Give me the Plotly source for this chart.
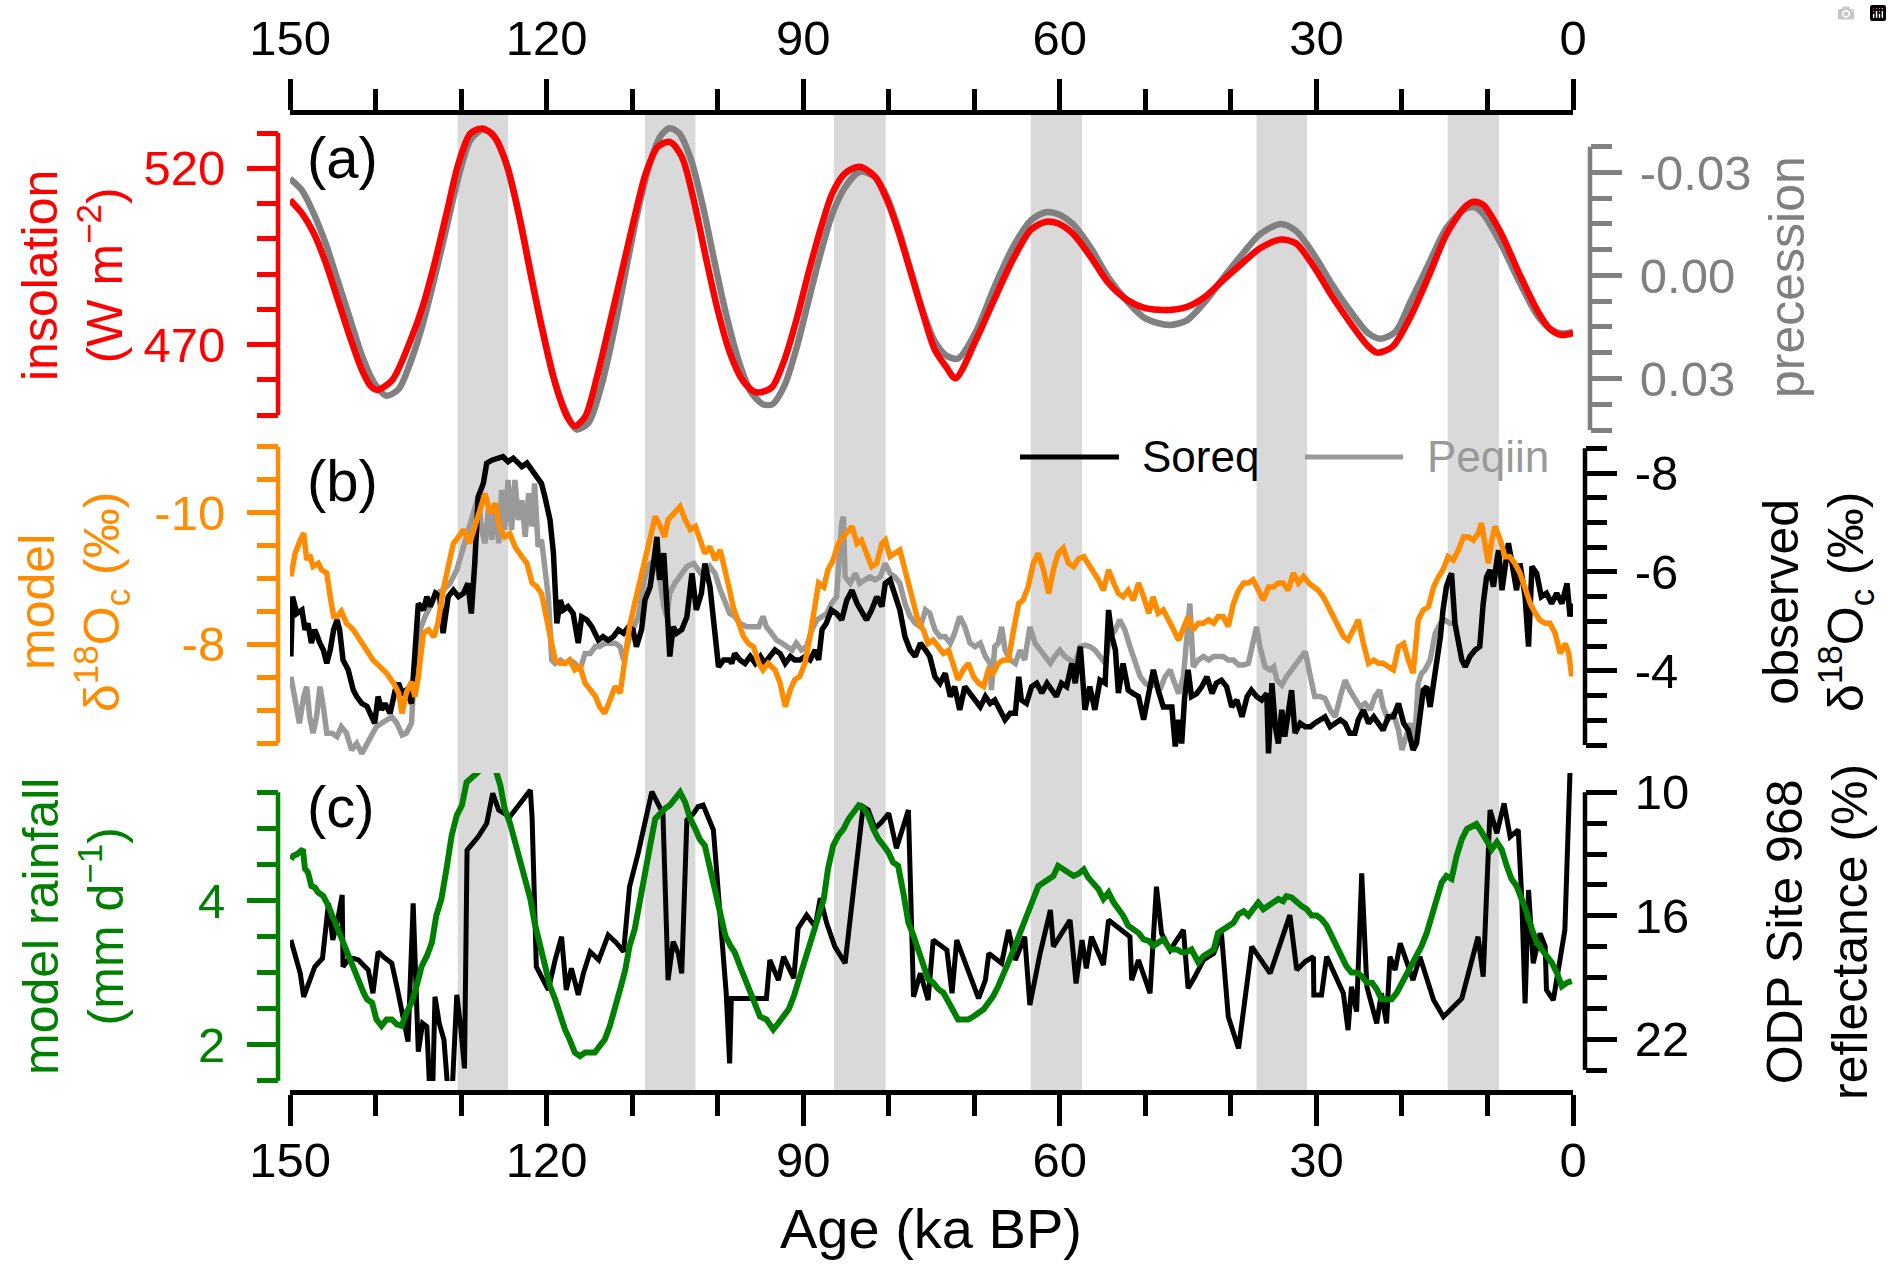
import plotly.graph_objects as go

W, H = 1892, 1275

# ---------------------------------------------------------------- data
age_ticks = [150, 120, 90, 60, 30, 0]
age_tick_labels = ["150", "120", "90", "60", "30", "0"]
age_minor = [140, 130, 110, 100, 80, 70, 50, 40, 20, 10]

band_start = [130.4, 108.5, 86.4, 63.4, 37.0, 14.65]
band_end = [124.5, 102.6, 80.35, 57.4, 31.1, 8.65]

# (a) insolation (W m-2)
ins_age = [150, 148.6, 147.2, 145.8, 144.4, 143.0, 141.6, 140.5, 139.8, 138.05, 135.9, 134.5, 133.1, 131.7,
           130.3, 128.9, 127.5, 126.1, 124.6, 123.2, 121.8, 120.4, 119.0, 117.6, 116.7, 115.5, 114.1, 112.7,
           111.25, 109.8, 108.4, 107.0, 105.6, 104.2, 102.8, 101.4, 100.0, 98.55, 97.1, 95.7, 94.7, 93.6,
           92.2, 90.8, 89.4, 88.0, 86.6, 85.1, 83.4, 81.6, 80.2, 78.8, 77.4, 76.0, 74.6, 73.3, 72.2, 69.8,
           67.7, 65.5, 63.4, 61.7, 60.25, 58.5, 56.4, 54.3, 52.1, 50.0, 47.2, 45.1, 43.0, 40.9, 38.7, 36.6,
           34.15, 32.4, 30.3, 28.15, 26.0, 23.9, 22.9, 21.1, 19.0, 16.9, 14.75, 12.6, 11.6, 10.5, 8.4, 6.3,
           4.2, 2.76, 1.35, 0]
ins_val = [511.0, 507.2, 501.5, 493.0, 482.6, 472.2, 462.8, 458.0, 457.1, 459.9, 471.3, 480.7, 493.0, 507.2,
           521.4, 529.9, 531.3, 528.9, 520.5, 506.3, 489.2, 473.2, 459.0, 449.5, 446.9, 449.5, 460.9, 475.1,
           490.2, 505.3, 518.6, 526.1, 527.5, 523.3, 511.0, 494.9, 479.8, 467.5, 459.9, 456.6, 456.6, 458.0,
           465.6, 476.9, 490.2, 502.5, 512.9, 518.6, 520.4, 517.6, 511.0, 501.5, 490.2, 478.8, 468.4, 463.7,
           460.4, 471.3, 482.6, 494.0, 502.5, 504.8, 504.4, 501.5, 494.9, 487.4, 482.6, 480.3, 479.8, 480.7,
           483.6, 488.3, 493.0, 497.3, 499.8, 498.7, 492.1, 483.6, 476.0, 469.4, 467.7, 469.4, 477.9, 489.2,
           501.5, 509.1, 510.5, 509.6, 501.5, 490.2, 479.8, 474.6, 472.7, 473.2]

# (a) precession
prec_age = [150, 148.6, 147.2, 145.8, 144.4, 143.0, 141.6, 140.2, 138.75, 137.3, 135.9, 134.5, 133.1, 131.7,
            130.3, 128.9, 127.5, 126.4, 125.0, 123.6, 122.2, 120.8, 119.35, 117.9, 116.5, 115.1, 113.7, 112.3,
            110.9, 109.5, 108.05, 106.7, 105.6, 104.5, 103.1, 101.7, 100.3, 98.9, 97.5, 96.1, 94.7, 93.6, 92.2,
            90.8, 89.4, 88.0, 86.6, 85.1, 83.4, 81.6, 80.2, 78.8, 77.4, 76.0, 74.6, 73.3, 71.9, 69.8, 67.7, 65.5,
            63.4, 61.7, 60.25, 58.5, 56.4, 54.3, 52.1, 50.0, 47.2, 45.1, 43.0, 40.9, 38.7, 36.6, 34.15, 32.4,
            30.3, 28.15, 26.0, 23.9, 22.5, 20.75, 19.0, 16.9, 14.75, 12.6, 11.6, 10.5, 8.4, 6.3, 4.2, 2.76, 1.35, 0]
prec_val = [-0.0282, -0.0248, -0.0179, -0.0091, 0.0017, 0.0125, 0.0233, 0.0311, 0.0350, 0.0331, 0.0252, 0.0144,
            0.0007, -0.0140, -0.0287, -0.0395, -0.0424, -0.0414, -0.0346, -0.0218, -0.0052, 0.0125, 0.0282,
            0.0389, 0.0448, 0.0429, 0.0331, 0.0184, 0.0007, -0.0169, -0.0316, -0.0405, -0.0429, -0.0414,
            -0.0336, -0.0199, -0.0032, 0.0125, 0.0252, 0.0340, 0.0375, 0.0375, 0.0321, 0.0213, 0.0076, -0.0061,
            -0.0179, -0.0257, -0.0302, -0.0287, -0.0228, -0.0130, -0.0012, 0.0105, 0.0193, 0.0233, 0.0242,
            0.0164, 0.0037, -0.0081, -0.0160, -0.0184, -0.0179, -0.0150, -0.0081, 0.0007, 0.0076, 0.0125,
            0.0144, 0.0130, 0.0076, 0.0007, -0.0061, -0.0120, -0.0150, -0.0130, -0.0061, 0.0027, 0.0105,
            0.0169, 0.0184, 0.0164, 0.0076, -0.0032, -0.0140, -0.0194, -0.0199, -0.0179, -0.0091, 0.0017,
            0.0115, 0.0154, 0.0169, 0.0164]

# (b) model d18O (permil)
mod_age = [149.9, 149.4, 148.8, 148.4, 148.05, 147.7, 147.3, 146.7, 146.3, 145.7, 145.3, 144.9, 144.5, 144.0,
           143.4, 142.6, 141.8, 141.0, 140.3, 139.5, 138.7, 137.9, 137.3, 136.9, 136.4, 135.8, 135.4, 135.0,
           134.4, 133.8, 133.2, 132.7, 132.1, 131.5, 130.9, 130.3, 129.7, 129.0, 128.4, 127.8, 127.2, 126.6,
           126.0, 125.5, 124.9, 124.3, 123.7, 122.9, 122.3, 121.7, 121.2, 120.6, 120.0, 119.4, 119.0, 118.4,
           117.8, 117.3, 116.7, 116.1, 115.5, 114.9, 114.3, 113.8, 113.2, 112.6, 112.0, 111.4, 110.8, 110.3,
           109.7, 109.1, 108.5, 107.9, 107.3, 106.7, 106.2, 105.8, 105.2, 104.4, 103.8, 103.2, 102.6, 102.1,
           101.5, 100.9, 100.3, 99.7, 99.1, 98.6,
           98.2, 97.6, 97.0, 96.4, 95.8, 95.2, 94.7, 94.1, 93.3, 92.7, 92.1, 91.5, 91.0, 90.4, 89.8, 89.2,
           88.6, 88.2, 87.6, 87.1, 86.5, 85.9, 85.3, 84.7, 84.3, 83.7, 83.2, 82.6, 82.0, 81.4, 80.8, 80.4,
           79.85, 79.3, 78.7, 78.3, 77.7, 77.1, 76.5, 75.95, 75.4, 74.8, 74.2, 73.6, 73.0, 72.4, 71.9, 71.3,
           70.7, 70.1, 69.5, 68.9, 68.35, 67.8, 67.2, 66.6, 66.0, 65.4, 64.8, 64.3, 63.7, 63.1, 62.5, 61.9,
           61.3, 60.75, 60.2, 59.6, 59.0, 58.4, 57.8, 57.2, 56.7, 56.1, 55.5, 54.9, 54.3, 53.7, 53.15, 52.6,
           52.0, 51.4, 50.8, 50.2, 49.6, 49.1, 48.5, 47.9, 47.1,
           46.7, 46.1, 45.55, 45.0, 44.4, 43.8, 43.2, 42.6, 42.0, 41.5, 40.9, 40.3, 39.7, 39.1, 38.5, 37.95,
           37.4, 36.8, 36.2, 35.6, 35.0, 34.45, 33.9, 33.3, 32.7, 32.1, 31.5, 30.9, 30.35, 29.8, 29.2, 28.6,
           28.0, 27.4, 26.85, 26.3, 25.7, 25.1, 24.5, 23.9, 23.3, 22.75, 22.2, 21.6, 21.0, 20.4, 19.8, 19.25,
           18.7, 18.1, 17.5, 16.9, 16.3, 15.7, 15.2, 14.6, 14.0, 13.4, 12.8, 12.2, 11.65, 11.1, 10.7, 10.3,
           9.9, 9.5, 9.1, 8.5, 7.95, 7.4, 6.8, 6.2, 5.6, 5.0, 4.4, 3.9, 3.25, 2.7, 2.1, 1.5, 0.9, 0.5, 0.15]
mod_val = [-9.03, -9.38, -9.58, -9.69, -9.28, -9.36, -9.18, -9.23, -9.13, -9.08, -8.72, -8.42, -8.42, -8.50,
           -8.32, -8.22, -8.06, -7.91, -7.76, -7.66, -7.56, -7.41, -7.26, -6.95, -7.26, -7.43, -7.20, -7.51,
           -8.17, -8.22, -8.11, -8.32, -8.82, -9.18, -9.53, -9.63, -9.74, -9.53, -9.79, -9.99, -10.29, -9.99,
           -10.14, -9.79, -9.63, -9.68, -9.48, -9.33, -9.23, -8.93, -8.88, -8.77, -8.37, -8.01, -7.76, -7.71,
           -7.71, -7.76, -7.61, -7.66, -7.41, -7.31, -7.21, -7.05, -6.95, -7.15, -7.36, -7.26, -7.76, -8.27,
           -8.62, -8.93, -9.28, -9.58, -9.94, -9.79, -9.63, -9.89, -9.99, -10.09, -9.89, -9.74, -9.79, -9.58,
           -9.38, -9.48, -9.28, -9.43, -9.13, -8.82,
           -8.57, -8.32, -8.12, -8.01, -7.96, -7.71, -7.61, -7.71, -7.61, -7.41, -7.05, -7.31, -7.46, -7.51,
           -7.71, -8.12, -8.57, -8.93, -8.87, -9.13, -9.28, -9.53, -9.63, -9.74, -9.79, -9.53, -9.58, -9.38,
           -9.18, -9.23, -9.53, -9.58, -9.33, -9.38, -9.43, -9.23, -8.93, -8.57, -8.32, -8.22, -8.01, -8.06,
           -7.96, -7.86, -7.91, -7.66, -7.46, -7.61, -7.71, -7.51, -7.41, -7.36, -7.61, -7.56, -7.71, -7.76,
           -7.76, -8.22, -8.62, -8.67, -8.87, -9.23, -9.38, -9.13, -8.77, -9.13, -9.38, -9.46, -9.23, -9.18,
           -9.30, -9.33, -9.23, -9.13, -8.98, -8.82, -9.13, -8.93, -8.77, -8.72, -8.82, -8.67, -8.93, -8.72,
           -8.47, -8.72, -8.47, -8.52, -8.34,
           -8.22, -8.06, -8.27, -8.42, -8.22, -8.32, -8.32, -8.37, -8.32, -8.42, -8.42, -8.27, -8.62, -8.82,
           -8.93, -8.93, -8.98, -8.82, -8.67, -8.87, -8.87, -8.93, -8.93, -8.82, -9.08, -8.93, -9.03, -8.93,
           -8.87, -8.82, -8.72, -8.57, -8.42, -8.27, -8.12, -8.06, -8.22, -8.37, -8.01, -7.71, -7.76, -7.71,
           -7.71, -7.66, -7.61, -7.96, -8.01, -7.76, -7.56, -8.37, -8.52, -8.57, -8.87, -9.03, -9.13, -9.33,
           -9.28, -9.43, -9.63, -9.63, -9.58, -9.68, -9.84, -9.53, -9.23, -9.58, -9.79, -9.58, -9.33, -9.33,
           -9.23, -9.08, -8.87, -8.62, -8.47, -8.37, -8.32, -8.32, -8.17, -7.86, -8.01, -7.86, -7.51]

# (b) Soreq cave d18O (permil)
soreq_age = [149.9, 149.7, 149.2, 148.6, 148.25, 147.9, 147.5, 147.1, 146.5, 146.1, 145.7, 145.3, 144.9, 144.5,
             144.2, 143.8, 143.2, 142.6, 142.2, 141.6, 141.0, 140.4, 140.1, 139.7, 139.3, 138.9, 138.3, 137.7,
             137.3, 136.9, 136.4, 135.8, 135.4, 135.0, 134.4, 134.0, 133.6, 133.0, 132.5, 132.1, 131.5, 130.9,
             130.3, 129.7, 129.2, 128.8, 128.4, 128.0, 127.4, 127.0, 126.4, 125.8, 125.1, 124.5, 123.9, 123.3,
             122.9, 122.3, 121.7, 121.2, 120.6, 120.2, 119.6, 119.2, 118.8, 118.4, 118.05, 117.5, 116.9, 116.3,
             115.9, 115.3, 114.7, 113.95, 113.4, 112.8, 112.2, 111.6, 111.0, 110.4, 109.9, 109.5, 108.9, 108.5,
             107.9, 107.5, 107.1, 106.8, 106.3, 105.95, 105.6, 105.2, 104.8, 104.2, 103.6, 103.0, 102.5, 101.9,
             101.5, 100.9, 100.3, 99.9, 99.3, 98.6,
             98.36, 98.0, 97.4, 96.8, 96.2, 95.6, 95.0, 94.5, 93.9, 93.3, 92.7, 92.1, 91.5, 91.0, 90.4, 89.8,
             89.2, 88.6, 88.2, 87.8, 87.3, 86.7, 86.1, 85.5, 84.9, 84.3, 83.7, 83.2, 82.6, 82.0, 81.4, 80.8,
             80.4, 79.85, 79.3, 78.7, 78.1, 77.5, 76.9, 76.3, 75.7, 75.2, 74.6, 74.0, 73.4, 72.8, 72.3, 71.7,
             71.1, 70.5, 69.9, 69.3, 68.7, 68.15, 67.6, 67.0, 66.4, 65.8, 65.2, 64.8, 64.5, 63.9, 63.3, 62.7,
             62.1, 61.5, 60.95, 60.4, 59.8, 59.2, 58.6, 58.2, 57.6, 57.05, 56.5, 55.9, 55.3, 54.7, 54.3, 53.9,
             53.5, 53.15, 52.6, 52.0, 51.4, 50.8, 50.2, 49.6, 49.06, 48.5, 47.9, 47.1,
             46.9, 46.5, 46.1, 45.75, 45.4, 45.0, 44.6, 44.0, 43.4, 42.8, 42.2, 41.7, 41.1, 40.5, 39.9, 39.3,
             38.7, 38.1, 37.6, 37.0, 36.4, 35.8, 35.6, 35.2, 34.8, 34.45, 34.05, 33.7, 33.3, 32.9, 32.5, 31.9,
             31.3, 30.7, 30.2, 29.6, 29.0, 28.4, 27.8, 27.2, 26.65, 26.1, 25.5, 25.1, 24.5, 23.9, 23.3, 22.75,
             22.2, 21.6, 21.0, 20.4, 19.8, 19.25, 18.7, 18.3, 17.9, 17.5, 17.1, 16.7, 16.3, 15.9, 15.5, 15.2,
             14.8, 14.4, 14.2, 13.8, 13.4, 13.0, 12.6, 12.05, 11.45, 10.9, 10.5, 10.1, 9.7, 9.3, 8.9, 8.7,
             8.3, 7.95, 7.55, 7.2, 6.6, 6.2, 5.6, 5.2, 4.8, 4.25, 3.7, 3.1, 2.5, 1.9, 1.3, 0.7, 0.35, 0.03]
soreq_val = [-4.29, -5.50, -5.16, -5.23, -4.83, -4.96, -4.56, -4.83, -4.56, -4.42, -4.15, -4.42, -4.83, -5.03,
             -4.83, -4.22, -4.02, -3.61, -3.48, -3.34, -3.28, -3.01, -2.94, -3.48, -3.21, -3.34, -3.14, -3.61,
             -3.75, -3.55, -3.61, -3.34, -4.35, -5.36, -5.23, -5.50, -5.30, -5.57, -5.50, -4.76, -5.50, -5.63,
             -5.50, -5.57, -5.77, -5.16, -6.17, -7.52, -7.79, -8.20, -8.26, -8.30, -8.33, -8.23, -8.30, -8.20,
             -8.13, -8.20, -8.06, -7.93, -7.79, -7.52, -7.05, -6.38, -4.96, -5.43, -5.23, -5.30, -5.16, -4.56,
             -5.09, -5.03, -4.89, -4.62, -4.69, -4.62, -4.69, -4.83, -4.76, -4.89, -4.83, -4.49, -4.83, -5.43,
             -5.70, -6.17, -6.71, -5.84, -6.38, -5.36, -4.29, -4.89, -4.76, -4.83, -5.09, -5.97, -5.23, -5.57,
             -6.17, -5.70, -4.83, -4.08, -4.22, -4.22,
             -4.15, -4.35, -4.22, -4.15, -4.29, -4.15, -4.29, -4.15, -4.29, -4.42, -4.35, -4.15, -4.29, -4.22,
             -4.22, -4.29, -4.22, -4.42, -4.22, -4.83, -4.96, -5.23, -5.16, -5.03, -5.43, -5.63, -5.36, -5.23,
             -5.03, -5.23, -5.50, -5.30, -5.77, -5.84, -5.50, -5.23, -4.69, -4.42, -4.29, -4.56, -4.42, -4.29,
             -3.88, -3.75, -3.95, -3.48, -3.68, -3.21, -3.68, -3.54, -3.41, -3.27, -3.48, -3.34, -3.41, -3.21,
             -3.01, -3.14, -3.14, -3.88, -3.41, -3.34, -3.68, -3.75, -3.55, -3.75, -3.61, -3.48, -3.75, -3.68,
             -4.15, -3.75, -4.49, -3.21, -3.68, -3.21, -3.81, -3.75, -5.23, -4.69, -4.42, -3.55, -4.15, -3.61,
             -3.54, -3.48, -3.01, -3.61, -4.02, -3.61, -3.27, -3.27,
             -3.27, -2.47, -3.01, -2.53, -3.48, -4.02, -3.48, -3.54, -3.68, -3.88, -3.54, -3.75, -3.81, -3.68,
             -3.27, -3.41, -3.07, -3.48, -3.61, -3.48, -3.41, -3.54, -2.33, -3.75, -2.87, -2.53, -3.21, -2.67,
             -3.14, -3.61, -2.74, -2.94, -2.87, -2.87, -2.94, -3.01, -3.07, -2.87, -2.94, -3.01, -2.94, -2.74,
             -2.74, -3.01, -3.21, -2.94, -3.07, -2.94, -2.80, -3.07, -3.07, -3.34, -2.94, -2.80, -2.40, -2.53,
             -3.14, -3.61, -3.68, -3.27, -3.75, -4.15, -4.69, -5.23, -5.70, -5.90, -5.97, -4.96, -4.56, -4.22,
             -4.08, -4.29, -4.42, -4.49, -5.36, -5.90, -6.04, -5.70, -6.24, -6.44, -5.63, -6.04, -6.58, -6.24,
             -5.63, -6.17, -5.50, -4.49, -6.11, -5.97, -5.50, -5.57, -5.36, -5.57, -5.36, -5.77, -5.10, -5.36]

# (b) Peqiin cave d18O (permil)
peqiin_age = [149.9, 149.4, 148.9, 148.4, 148.05, 147.7, 147.3, 146.9, 146.5, 146.1, 145.7, 145.1, 144.5, 144.0,
              143.4, 142.8, 142.2, 141.6, 141.0, 140.4, 139.9, 139.3, 138.7, 138.1, 137.5, 136.9, 136.4, 135.8,
              135.4, 134.8, 134.2, 133.6, 132.85, 132.1, 131.3, 130.5, 129.7, 129.0, 128.4, 128.0, 127.6, 127.2,
              126.8, 126.4, 126.0, 125.6, 125.25, 124.9, 124.5, 124.1, 123.7, 123.3, 122.9, 122.5, 122.1, 121.7,
              121.4, 121.0, 120.6, 120.2, 119.8, 119.4, 119.0, 118.4, 117.8, 117.3, 116.7, 116.1, 115.5, 114.9,
              114.3, 113.8, 113.2, 112.6, 112.0, 111.4, 111.0, 110.4, 109.9, 109.3, 108.9, 108.5, 107.9, 107.3,
              106.8, 106.3, 105.95, 105.6, 105.0, 104.4, 103.6, 102.8, 102.3, 101.7, 100.9, 100.3, 99.7, 99.1,
              98.6,
              98.0, 97.4, 96.6, 95.8, 95.2, 94.7, 94.3, 93.7, 93.1, 92.5, 91.9, 91.3, 90.8, 90.2, 89.6, 89.0,
              88.4, 87.8, 87.25, 86.7, 86.1, 85.5, 85.3, 85.1, 84.5, 83.9, 83.4, 82.8, 82.2, 81.6, 81.0, 80.4,
              79.85, 79.3, 78.7, 78.1, 77.5, 76.9, 76.3, 75.7, 75.2, 74.6, 74.0, 73.4, 72.8, 72.3, 71.7, 71.1,
              70.5, 69.9, 69.3, 68.7, 68.15, 68.0, 67.6, 67.2, 66.8, 66.4, 65.8, 65.2, 64.65, 64.1, 63.5, 62.9,
              62.3, 61.7, 61.1, 60.6, 60.0, 59.4, 58.8, 58.2, 57.6, 57.05, 56.5, 55.9, 55.3, 54.7, 54.1, 53.5,
              53.0, 52.4, 51.8, 51.2, 50.6, 50.0, 49.45, 48.9, 48.3, 47.7, 47.1,
              46.7, 46.1, 45.55, 45.2, 44.8, 44.4, 43.8, 43.2, 42.6, 42.0, 41.5, 40.9, 40.3, 39.7, 39.1, 38.5,
              37.95, 37.4, 37.0, 36.6, 36.0, 35.4, 35.0, 34.6, 34.05, 33.5, 32.9, 32.3, 31.7, 31.3, 30.7, 30.2,
              29.6, 29.0, 28.4, 27.8, 27.2, 26.65, 26.1, 25.5, 24.9, 24.3, 23.7, 23.15, 22.6, 22.2, 21.6, 21.0,
              20.4, 20.0, 19.6, 19.05, 18.5, 18.1, 17.7, 17.3, 16.7, 16.1, 15.5, 15.0, 14.4, 13.8]
peqiin_val = [-3.88, -3.34, -2.94, -3.48, -3.68, -3.07, -2.74, -3.07, -3.68, -3.27, -2.74, -2.74, -2.67, -2.87,
              -2.74, -2.40, -2.53, -2.33, -2.53, -2.67, -2.87, -2.94, -3.01, -3.07, -2.94, -2.70, -2.74, -2.94,
              -4.15, -4.83, -5.10, -5.30, -5.57, -5.63, -5.77, -6.04, -6.51, -6.92, -7.32, -7.52, -6.85, -6.58,
              -7.25, -6.65, -7.39, -6.58, -7.66, -6.85, -7.86, -6.85, -7.86, -7.05, -7.45, -6.71, -7.59, -6.92,
              -7.79, -6.51, -6.65, -6.11, -5.50, -4.22, -4.15, -4.22, -4.15, -4.22, -4.15, -4.02, -4.35, -4.35,
              -4.49, -4.49, -4.56, -4.56, -4.56, -4.49, -4.22, -4.62, -4.83, -5.10, -5.50, -5.90, -6.17, -6.24,
              -5.90, -5.30, -5.10, -5.57, -5.77, -5.90, -6.11, -6.17, -6.04, -5.90, -6.11, -5.97, -5.64, -5.36,
              -5.16,
              -5.10, -4.96, -4.89, -4.89, -4.89, -5.10, -4.89, -4.76, -4.62, -4.56, -4.49, -4.42, -4.56, -4.42,
              -4.49, -4.83, -5.03, -5.10, -5.16, -5.36, -5.50, -6.98, -7.12, -5.90, -5.77, -5.97, -5.77, -5.84,
              -5.90, -5.84, -5.90, -6.17, -5.97, -5.90, -5.77, -5.36, -5.10, -4.96, -4.89, -5.23, -5.16, -4.83,
              -4.69, -4.69, -4.56, -4.76, -5.10, -4.89, -4.56, -4.49, -4.56, -4.29, -4.15, -3.61, -4.49, -4.56,
              -4.89, -4.42, -4.22, -4.15, -4.42, -4.22, -4.89, -4.56, -4.42, -4.29, -4.15, -4.29, -4.42, -4.29,
              -4.22, -4.15, -4.49, -4.52, -4.49, -4.42, -4.29, -4.15, -4.69, -4.83, -5.03, -4.83, -4.49, -4.15,
              -3.88, -3.75, -3.68, -3.75, -3.61, -3.88, -4.02,
              -3.81, -3.54, -3.88, -4.62, -5.36, -4.08, -4.22, -4.29, -4.22, -4.29, -4.29, -4.29, -4.22, -4.22,
              -4.12, -4.12, -4.15, -4.56, -4.89, -4.49, -4.08, -4.02, -4.08, -3.81, -3.71, -3.88, -4.02, -4.15,
              -4.29, -4.39, -3.88, -3.48, -3.48, -3.44, -3.21, -3.07, -3.48, -3.81, -3.61, -3.41, -3.27, -3.34,
              -3.21, -3.48, -3.61, -3.27, -3.01, -3.14, -2.80, -2.40, -2.67, -2.94, -2.60, -3.75, -3.95, -4.02,
              -4.22, -4.76, -4.96, -5.03, -4.96, -4.96]

# (c) model rainfall (mm d-1)
rain_age = [149.9, 149.6, 149.2, 148.8, 148.5, 148.25, 147.9, 147.5, 147.1, 146.7, 146.1, 145.5, 144.9, 144.4,
            143.8, 143.2, 142.6, 142.0, 141.4, 141.0, 140.4, 139.9, 139.3, 138.7, 138.1, 137.5, 136.95, 136.4,
            135.8, 135.2, 134.6, 134.0, 133.4, 132.9, 132.3, 131.7, 131.1, 130.5, 129.9, 129.35, 128.8, 128.2,
            127.4, 126.6, 126.05, 125.4, 124.9, 124.3, 123.7, 123.1, 122.5, 121.9, 121.4, 120.8, 120.2, 119.6,
            119.0, 118.4, 117.85, 117.3, 116.7, 116.1, 115.5, 114.9, 114.35, 113.8, 113.2, 112.6, 112.0, 111.4,
            110.8, 110.3, 109.7, 109.1, 108.5, 107.9, 107.3, 106.7, 106.2, 105.6, 105.0, 104.4, 103.8, 103.2,
            102.6, 102.1, 101.5, 100.9, 100.3, 99.7,
            99.1, 98.5, 98.0, 97.4, 96.8, 96.2, 95.6, 95.05, 94.3, 93.5, 92.9, 92.3, 91.7, 91.1, 90.6, 90.0,
            89.4, 88.8, 88.2, 87.6, 87.1, 86.5, 85.9, 85.3, 84.7, 84.1, 83.5, 83.0, 82.4, 81.8, 81.2, 80.6,
            80.05, 79.5, 78.9, 78.3, 77.7, 77.1, 76.5, 76.0, 75.4, 74.8, 74.2, 73.6, 73.0, 72.4, 71.9, 71.3,
            70.7, 70.1, 69.5, 68.9, 68.35, 67.8, 67.2, 66.6, 66.0, 65.4, 64.8, 64.3, 63.7, 63.1, 62.5, 61.9,
            61.3, 60.75, 60.2, 59.6, 59.0, 58.4, 57.8, 57.2, 56.7, 56.1, 55.5, 54.9, 54.3, 53.7, 53.15, 52.6,
            52.0, 51.4, 50.8, 50.2, 49.6, 49.06, 48.5, 47.9, 47.1,
            46.3, 45.75, 45.2, 44.6, 43.8, 43.2, 42.6, 42.0, 41.5, 40.9, 40.3, 39.7, 39.1, 38.5, 37.95, 37.4,
            36.8, 36.2, 35.6, 35.0, 34.45, 33.9, 33.5, 32.9, 32.3, 31.7, 31.15, 30.55, 29.96, 29.4, 28.8, 28.2,
            27.6, 27.05, 26.5, 25.9, 25.3, 24.7, 24.1, 23.5, 22.95, 22.4, 21.8, 21.2, 20.6, 20.0, 19.45, 18.9,
            18.3, 17.7, 17.1, 16.5, 15.9, 15.35, 14.8, 14.2, 13.6, 13.0, 12.4, 11.8, 11.3, 10.7, 10.1, 9.5,
            8.9, 8.35, 7.75, 7.2, 6.6, 6.0, 5.4, 4.8, 4.25, 3.65, 3.1, 2.5, 1.9, 1.3, 0.7, 0.15]
rain_val = [4.57, 4.62, 4.64, 4.67, 4.71, 4.44, 4.39, 4.20, 4.18, 4.11, 4.06, 3.92, 3.74, 3.60,
            3.42, 3.23, 3.09, 2.91, 2.72, 2.63, 2.58, 2.35, 2.26, 2.35, 2.35, 2.28, 2.26, 2.44,
            2.58, 2.81, 3.09, 3.23, 3.42, 3.79, 4.02, 4.44, 4.90, 5.18, 5.32, 5.64, 5.71, 5.76,
            5.85, 5.85, 5.85, 5.59, 5.27, 5.08, 4.81, 4.57, 4.30, 4.02, 3.69, 3.37, 3.09, 2.81,
            2.63, 2.40, 2.21, 2.07, 1.89, 1.84, 1.89, 1.89, 1.89, 1.98, 2.07, 2.26, 2.49, 2.77,
            3.04, 3.37, 3.60, 4.02, 4.44, 4.76, 5.13, 5.22, 5.27, 5.32, 5.41, 5.50, 5.36, 5.13,
            4.99, 4.85, 4.76, 4.44, 4.20, 3.85,
            3.51, 3.37, 3.28, 3.09, 2.91, 2.72, 2.53, 2.39, 2.35, 2.21, 2.30, 2.39, 2.49, 2.67, 2.86, 3.09,
            3.32, 3.51, 3.79, 4.02, 4.44, 4.76, 4.90, 4.99, 5.13, 5.22, 5.32, 5.29, 5.18, 4.99, 4.85, 4.76,
            4.67, 4.53, 4.48, 4.11, 3.69, 3.51, 3.28, 3.09, 2.91, 2.86, 2.77, 2.72, 2.58, 2.44, 2.35, 2.35,
            2.35, 2.39, 2.44, 2.49, 2.58, 2.67, 2.81, 3.00, 3.14, 3.32, 3.51, 3.69, 3.83, 4.02, 4.20, 4.25,
            4.30, 4.34, 4.48, 4.43, 4.39, 4.34, 4.37, 4.43, 4.32, 4.25, 4.16, 4.02, 4.11, 3.97, 3.88, 3.79,
            3.65, 3.60, 3.55, 3.46, 3.44, 3.37, 3.41, 3.46, 3.32,
            3.32, 3.28, 3.28, 3.32, 3.14, 3.23, 3.28, 3.32, 3.55, 3.60, 3.65, 3.69, 3.81, 3.85, 3.79, 3.88,
            3.97, 3.88, 3.92, 3.97, 4.02, 3.99, 4.06, 4.04, 3.97, 3.92, 3.88, 3.79, 3.79, 3.74, 3.65, 3.51,
            3.37, 3.23, 3.09, 3.00, 3.00, 2.95, 2.86, 2.86, 2.77, 2.63, 2.63, 2.63, 2.72, 2.86, 2.95, 3.09,
            3.23, 3.37, 3.55, 3.79, 4.02, 4.25, 4.34, 4.30, 4.62, 4.85, 4.99, 5.04, 5.06, 4.95, 4.81, 4.71,
            4.81, 4.71, 4.48, 4.30, 4.20, 4.02, 3.83, 3.60, 3.42, 3.32, 3.23, 3.14, 3.00, 2.81, 2.86, 2.88]

# (c) ODP Site 968 reflectance (%)
refl_age = [149.9, 149.4, 148.8, 148.4, 147.7, 147.1, 146.2, 145.5, 145.0, 144.5, 143.9, 143.8, 143.2, 142.6,
            142.0, 141.4, 140.85, 140.3, 139.7, 139.1, 138.1, 137.5, 136.7, 136.2, 135.6, 135.0, 134.5, 134.0,
            133.7, 133.3, 133.05, 132.55, 132.0, 131.6, 131.0, 130.5, 130.05, 129.6, 129.3, 128.0, 127.0, 126.3,
            125.6, 124.3, 123.1, 121.9, 121.7, 121.2, 120.6, 119.8, 119.0, 118.25, 117.7, 117.1, 116.3, 115.7,
            114.9, 113.9, 112.8, 111.8, 111.0, 110.3, 109.3, 108.5, 107.7, 107.0, 106.4, 105.8, 105.2, 104.6,
            104.2, 103.6, 102.8, 102.3, 101.7, 100.5,
            99.0, 98.6, 98.4, 96.2, 94.3, 93.9, 92.9, 92.3, 91.1, 90.6, 89.6, 88.6, 88.0, 87.25, 86.3, 85.1,
            83.0, 82.4, 81.6, 80.8, 80.0, 79.1, 77.7, 77.1, 76.3, 75.4, 74.8, 73.2, 72.6, 72.05, 70.9, 69.5,
            68.7, 68.3, 66.8, 66.0, 65.2, 64.1, 63.5, 62.3, 61.1, 60.75, 58.8, 58.1, 57.4, 56.9, 56.3, 54.9,
            54.3, 51.8, 51.6, 50.8, 49.45, 48.7, 48.1, 47.1,
            45.55, 45.0, 44.2, 43.2, 42.0, 41.1, 40.3, 39.1, 37.55, 35.4, 33.1, 32.3, 31.3, 30.35, 30.3, 29.4,
            28.8, 27.8, 26.85, 26.3, 25.9, 25.3, 24.7, 24.1, 23.5, 22.95, 22.4, 21.8, 21.4, 20.8, 20.2, 19.6,
            18.7, 17.9, 16.3, 15.15, 13.0, 11.1, 10.5, 9.7, 8.9, 8.06, 7.35, 6.4, 6.0, 5.6, 5.2, 4.65,
            3.85, 3.25, 3.1, 2.3, 0.95, 0.35]
refl_val = [17.18, 17.83, 18.80, 19.94, 19.13, 18.48, 18.07, 15.40, 17.18, 16.37, 14.99, 18.48, 18.15, 18.07,
            18.15, 18.40, 18.64, 19.77, 17.75, 17.99, 18.31, 19.45, 21.07, 22.12, 15.40, 22.61, 21.23, 21.39,
            24.2, 24.2, 19.94, 21.23, 22.04, 24.2, 24.2, 19.85, 21.39, 23.42, 12.81, 12.16, 11.51, 10.05,
            10.86, 11.19, 10.54, 9.89, 11.19, 18.48, 18.96, 19.61, 18.15, 17.02, 19.61, 18.56, 19.85, 18.80,
            17.75, 18.15, 16.94, 17.34, 17.75, 14.59, 12.97, 11.35, 9.97, 10.54, 11.02, 19.13, 17.26, 17.83,
            18.80, 11.35, 11.02, 10.70, 10.62, 11.83,
            19.77, 23.18, 20.02, 20.02, 20.02, 18.15, 19.13, 17.99, 19.04, 16.61, 15.97, 16.53, 15.15, 16.37,
            17.50, 18.31, 10.70, 10.86, 11.75, 11.43, 11.02, 12.72, 10.86, 19.94, 18.80, 20.10, 17.18, 17.67,
            19.77, 17.18, 18.48, 20.02, 19.13, 17.83, 18.31, 16.69, 18.15, 17.02, 20.34, 17.83, 15.72, 17.50,
            16.21, 19.29, 17.18, 18.56, 17.02, 18.40, 16.21, 17.02, 19.13, 18.15, 19.77, 14.59, 16.86, 17.67,
            16.69, 19.53, 18.96, 18.15, 17.83, 16.86, 20.91, 22.45, 17.50, 18.80, 15.97, 18.64, 18.23, 17.99,
            19.85, 19.85, 17.99, 18.96, 19.77, 21.56, 19.45, 20.66, 13.94, 19.45, 20.42, 21.23, 19.77, 21.23,
            17.99, 18.64, 17.34, 17.99, 19.13, 17.99, 20.10, 20.91, 20.02, 17.02, 18.96, 10.86, 11.99, 10.54,
            12.16, 11.83, 15.07, 20.26, 14.75, 18.31, 16.86, 17.50, 19.61, 20.10, 16.69, 9.0]

# tick values / labels
ins_ticks = [470, 520]
ins_labels = ["470", "520"]
ins_minor = [450, 460, 480, 490, 500, 510, 530]
prec_ticks = [-0.03, 0.0, 0.03]
prec_labels = ["-0.03", "0.00", "0.03"]
prec_minor = [-0.0375, -0.0225, -0.015, -0.0075, 0.0075, 0.015, 0.0225, 0.0375, 0.045]
mod_ticks = [-10, -8]
mod_labels = ["-10", "-8"]
mod_minor = [-11, -10.5, -9.5, -9, -8.5, -7.5, -7, -6.5]
obs_ticks = [-8, -6, -4]
obs_labels = ["-8", "-6", "-4"]
obs_minor = [-8.5, -7.5, -7, -6.5, -5.5, -5, -4.5, -3.5, -3, -2.5]
rain_ticks = [2, 4]
rain_labels = ["2", "4"]
rain_minor = [1.5, 2.5, 3, 3.5, 4.5, 5, 5.5]
refl_ticks = [10, 16, 22]
refl_labels = ["10", "16", "22"]
refl_minor = [11.5, 13, 14.5, 17.5, 19, 20.5, 23.5]

# ---------------------------------------------------------------- styling / layout helpers
RED, GREY, ORANGE, GREEN, PEQ = "#ff0000", "#808080", "#ff8c00", "#008000", "#999999"
FONT = "Liberation Sans, Arial, sans-serif"
TICKFS = 49


def fx(p):
    return p / W


def fy(p):
    return 1 - p / H


def ext_range(v_top, p_top, v_bot, p_bot, c_top, c_bot):
    s = (v_bot - v_top) / (p_bot - p_top)
    return [v_top + s * (c_bot - p_top), v_top + s * (c_top - p_top)]


def yax(color, side, pos, rng, clip, tv, tt, mv, standoff):
    return dict(domain=[fy(clip[1]), fy(clip[0])], range=rng, anchor="free", position=fx(pos), side=side,
                automargin=False, showgrid=False, zeroline=False, showline=False, ticks="outside",
                ticklen=31, tickwidth=4.5, tickcolor=color, tickmode="array", tickvals=tv, ticktext=tt,
                tickfont=dict(size=TICKFS, color=color, family=FONT), ticklabelstandoff=standoff,
                minor=dict(tickmode="array", tickvals=mv, ticks="outside", ticklen=21, tickwidth=4.5,
                           tickcolor=color, showgrid=False),
                fixedrange=True)


CLIP_A, CLIP_B, CLIP_C = (112, 445), (440, 770), (773, 1081)
# display extents: (value at top, px top, value at bottom, px bottom)
disp = {
    "prec": (-0.0375, 146.7, 0.045, 430.0),
    "ins": (530, 133.0, 450, 415.0),
    "obs": (-8.5, 448.3, -2.5, 745.0),
    "mod": (-11, 446.7, -6.5, 743.0),
    "refl": (10, 792.3, 23.5, 1070.0),
    "rain": (5.5, 792.3, 1.5, 1080.7),
}

fig = go.Figure()


def add_line(x, y, ax, color, width, shape="linear"):
    fig.add_trace(go.Scatter(x=x, y=y, mode="lines", xaxis="x", yaxis=ax, showlegend=False,
                             hoverinfo="skip", line=dict(color=color, width=width, shape=shape,
                                                         smoothing=0.8 if shape == "spline" else None)))


add_line(prec_age, prec_val, "y", GREY, 6.5, "spline")
add_line(ins_age, ins_val, "y2", RED, 6.5, "spline")
add_line(peqiin_age, peqiin_val, "y3", PEQ, 5.5)
add_line(soreq_age, soreq_val, "y3", "black", 5.5)
add_line(mod_age, mod_val, "y4", ORANGE, 5.5)
add_line(refl_age, refl_val, "y5", "black", 5)
add_line(rain_age, rain_val, "y6", GREEN, 6)
# empty trace hosting the top age axis
fig.add_trace(go.Scatter(x=[], y=[], xaxis="x2", yaxis="y", showlegend=False, hoverinfo="skip"))

x_common = dict(domain=[fx(290), fx(1573)], range=[150, 0], showgrid=False, zeroline=False, automargin=False,
                showline=True, linewidth=4.5, linecolor="black", ticks="outside", ticklen=31, tickwidth=4.5,
                tickcolor="black", tickmode="array", tickvals=age_ticks, ticktext=age_tick_labels,
                tickfont=dict(size=TICKFS, color="black", family=FONT),
                minor=dict(tickmode="array", tickvals=age_minor, ticks="outside", ticklen=21, tickwidth=4.5,
                           tickcolor="black", showgrid=False),
                fixedrange=True, anchor="free")

layout = dict(
    width=W, height=H, margin=dict(l=0, r=0, t=0, b=0, pad=0, autoexpand=False), autosize=False,
    paper_bgcolor="white", plot_bgcolor="rgba(0,0,0,0)", font=dict(family=FONT, color="black"),
    showlegend=False,
    xaxis=dict(x_common, side="bottom", position=fy(1092), ticklabelstandoff=-8),
    xaxis2=dict(x_common, side="top", position=fy(112), overlaying="x", ticklabelstandoff=5),
    yaxis=yax(GREY, "right", 1590, ext_range(*disp["prec"], *CLIP_A), CLIP_A, prec_ticks, prec_labels, prec_minor, 8),
    yaxis2=yax(RED, "left", 278, ext_range(*disp["ins"], *CLIP_A), CLIP_A, ins_ticks, ins_labels, ins_minor, 12),
    yaxis3=yax("black", "right", 1585, ext_range(*disp["obs"], *CLIP_B), CLIP_B, obs_ticks, obs_labels, obs_minor, 8),
    yaxis4=yax(ORANGE, "left", 278, ext_range(*disp["mod"], *CLIP_B), CLIP_B, mod_ticks, mod_labels, mod_minor, 12),
    yaxis5=yax("black", "right", 1585, ext_range(*disp["refl"], *CLIP_C), CLIP_C, refl_ticks, refl_labels,
               refl_minor, 8),
    yaxis6=yax(GREEN, "left", 278, ext_range(*disp["rain"], *CLIP_C), CLIP_C, rain_ticks, rain_labels,
               rain_minor, 12),
)
fig.update_layout(**layout)

shapes = []
# shaded intervals
for a0, a1 in zip(band_start, band_end):
    shapes.append(dict(type="rect", xref="x", yref="paper", x0=a0, x1=a1, y0=fy(1090), y1=fy(114),
                       fillcolor="#d9d9d9", line=dict(width=0), layer="below"))
# axis spines
spines = [("y", 1590, GREY, "prec"), ("y2", 278, RED, "ins"), ("y3", 1585, "black", "obs"),
          ("y4", 278, ORANGE, "mod"), ("y5", 1585, "black", "refl"), ("y6", 278, GREEN, "rain")]
for ref, pos, col, key in spines:
    shapes.append(dict(type="line", xref="paper", yref=ref, x0=fx(pos), x1=fx(pos),
                       y0=disp[key][0], y1=disp[key][2], line=dict(color=col, width=4.5)))
# legend sample lines
shapes.append(dict(type="line", xref="paper", yref="paper", x0=fx(1020), x1=fx(1119), y0=fy(457), y1=fy(457),
                   line=dict(color="black", width=5)))
shapes.append(dict(type="line", xref="paper", yref="paper", x0=fx(1305), x1=fx(1403), y0=fy(457), y1=fy(457),
                   line=dict(color=PEQ, width=5)))
fig.update_layout(shapes=shapes)

ann = []


def text(s, x, y, size, color="black", angle=0, xanchor="center"):
    ann.append(dict(text=s, x=fx(x), y=fy(y), xref="paper", yref="paper", showarrow=False, textangle=angle,
                    xanchor=xanchor, yanchor="middle", align="center",
                    font=dict(size=size, color=color, family=FONT)))


text("insolation<br>(W m<sup>\u22122</sup>)", 73, 276, 50, RED, -90)
text("precession", 1787, 277, 50, GREY, -90)
text("model<br>\u03b4<sup>18</sup>O<sub>c</sub> (\u2030)", 73, 602, 50, ORANGE, -90)
text("observed<br>\u03b4<sup>18</sup>O<sub>c</sub> (\u2030)", 1817, 602, 50, "black", -90)
text("model rainfall<br>(mm d<sup>\u22121</sup>)", 73, 927, 50, GREEN, -90)
text("ODP Site 968<br>reflectance (%)", 1817, 932, 50, "black", -90)
text("Age (ka BP)", 931, 1228, 56)
text("(a)", 342, 158, 58)
text("(b)", 342, 481, 58)
text("(c)", 341, 806, 58)
text("Soreq", 1140, 457, 44, "black", 0, "left")
text("Peqiin", 1425, 457, 44, PEQ, 0, "left")
fig.update_layout(annotations=ann)

fig.write_html("out.html", post_script="document.body.style.margin='0';")
